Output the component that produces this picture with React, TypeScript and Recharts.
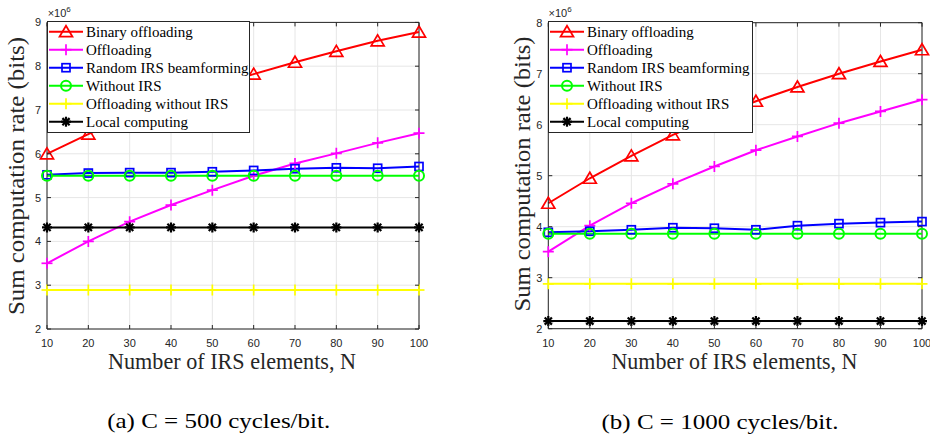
import React from 'react';
import { LineChart, Line, XAxis, YAxis, CartesianGrid, ReferenceLine, Legend } from 'recharts';

// ---------- data (values in units of 10^6 bits) ----------
const N_VALUES = [10, 20, 30, 40, 50, 60, 70, 80, 90, 100];
const X_TICKS = [10, 20, 30, 40, 50, 60, 70, 80, 90, 100];
const Y_TICKS_A = [2, 3, 4, 5, 6, 7, 8, 9];
const Y_TICKS_B = [2, 3, 4, 5, 6, 7, 8];

// (a) C = 500 cycles/bit
const BINARY_A = [6.0, 6.45, 6.85, 7.2, 7.52, 7.82, 8.09, 8.34, 8.58, 8.78];
const OFFLOAD_A = [3.5, 4.0, 4.45, 4.83, 5.17, 5.5, 5.78, 6.01, 6.25, 6.47];
const RANDOM_A = [5.52, 5.56, 5.57, 5.57, 5.59, 5.62, 5.66, 5.68, 5.67, 5.71];
const WITHOUT_A = [5.5, 5.5, 5.5, 5.5, 5.5, 5.5, 5.5, 5.5, 5.5, 5.5];
const OFF_NO_IRS_A = [2.89, 2.89, 2.89, 2.89, 2.89, 2.89, 2.89, 2.89, 2.89, 2.89];
const LOCAL_A = [4.32, 4.32, 4.32, 4.32, 4.32, 4.32, 4.32, 4.32, 4.32, 4.32];

// (b) C = 1000 cycles/bit
const BINARY_B = [4.46, 4.95, 5.39, 5.8, 6.14, 6.46, 6.74, 7.0, 7.24, 7.47];
const OFFLOAD_B = [3.51, 4.02, 4.46, 4.84, 5.18, 5.5, 5.77, 6.03, 6.26, 6.49];
const RANDOM_B = [3.89, 3.91, 3.94, 3.98, 3.97, 3.94, 4.02, 4.06, 4.08, 4.1];
const WITHOUT_B = [3.86, 3.86, 3.86, 3.86, 3.86, 3.86, 3.86, 3.86, 3.86, 3.86];
const OFF_NO_IRS_B = [2.88, 2.88, 2.88, 2.88, 2.88, 2.88, 2.88, 2.88, 2.88, 2.88];
const LOCAL_B = [2.15, 2.15, 2.15, 2.15, 2.15, 2.15, 2.15, 2.15, 2.15, 2.15];

const SERIES = [
  { key: 'binary', name: 'Binary offloading', color: '#FF0000', marker: 'triangle' },
  { key: 'offloading', name: 'Offloading', color: '#FF00FF', marker: 'plus' },
  { key: 'random', name: 'Random IRS beamforming', color: '#0000FF', marker: 'square' },
  { key: 'withoutIrs', name: 'Without IRS', color: '#00FF00', marker: 'circle' },
  { key: 'offNoIrs', name: 'Offloading without IRS', color: '#FFFF00', marker: 'plus' },
  { key: 'local', name: 'Local computing', color: '#000000', marker: 'asterisk' },
];

function buildRows(cols: Record<string, number[]>) {
  return N_VALUES.map((n, i) => {
    const r: any = { n };
    Object.keys(cols).forEach((k) => {
      r[k] = cols[k][i];
    });
    return r;
  });
}

const ROWS_A = buildRows({
  binary: BINARY_A,
  offloading: OFFLOAD_A,
  random: RANDOM_A,
  withoutIrs: WITHOUT_A,
  offNoIrs: OFF_NO_IRS_A,
  local: LOCAL_A,
});
const ROWS_B = buildRows({
  binary: BINARY_B,
  offloading: OFFLOAD_B,
  random: RANDOM_B,
  withoutIrs: WITHOUT_B,
  offNoIrs: OFF_NO_IRS_B,
  local: LOCAL_B,
});

const AXIS = '#262626';
const SERIF = 'Liberation Serif';
const SANS = 'Liberation Sans';

function Marker({ type, cx, cy, color }: any) {
  if (cx == null || cy == null || isNaN(cx) || isNaN(cy)) return null;
  switch (type) {
    case 'triangle':
      return (
        <polygon
          points={`${cx},${cy - 6} ${cx - 6.5},${cy + 5} ${cx + 6.5},${cy + 5}`}
          fill="none"
          stroke={color}
          strokeWidth={1.7}
        />
      );
    case 'plus':
      return (
        <g stroke={color} strokeWidth={1.7}>
          <line x1={cx - 5.5} x2={cx + 5.5} y1={cy} y2={cy} />
          <line x1={cx} x2={cx} y1={cy - 5.5} y2={cy + 5.5} />
        </g>
      );
    case 'square':
      return <rect x={cx - 4} y={cy - 4} width={8} height={8} fill="none" stroke={color} strokeWidth={1.7} />;
    case 'circle':
      return <circle cx={cx} cy={cy} r={5} fill="none" stroke={color} strokeWidth={2} />;
    case 'asterisk':
      return (
        <g stroke={color} strokeWidth={2.2}>
          <line x1={cx - 5} x2={cx + 5} y1={cy} y2={cy} />
          <line x1={cx} x2={cx} y1={cy - 5} y2={cy + 5} />
          <line x1={cx - 3.6} x2={cx + 3.6} y1={cy - 3.6} y2={cy + 3.6} />
          <line x1={cx - 3.6} x2={cx + 3.6} y1={cy + 3.6} y2={cy - 3.6} />
          <circle cx={cx} cy={cy} r={2} fill={color} stroke="none" />
        </g>
      );
    default:
      return null;
  }
}

function LegendBox({ width, height }: { width: number; height: number }) {
  return (
    <svg width={width} height={height} style={{ display: 'block' }}>
      <rect x={0.5} y={0.5} width={width - 1} height={height - 1} fill="#ffffff" stroke={AXIS} strokeWidth={1} />
      {SERIES.map((s, i) => {
        const cy = 10.7 + i * 18;
        return (
          <g key={s.key}>
            <line x1={2} x2={36} y1={cy} y2={cy} stroke={s.color} strokeWidth={2} />
            <Marker type={s.marker} cx={19} cy={cy} color={s.color} />
            <text x={39} y={cy + 4.8} fontFamily={SERIF} fontSize={15} fill="#000000">
              {s.name}
            </text>
          </g>
        );
      })}
    </svg>
  );
}

type PanelProps = {
  rows: any[];
  width: number;
  yMax: number;
  yTicks: number[];
  top: number;
  plotLeft: number;
  plotRight: number;
  plotBottom: number;
  legendWidth: number;
};

const PANEL_H = 360;

function Panel({ rows, width, yMax, yTicks, top, plotLeft, plotRight, plotBottom, legendWidth }: PanelProps) {
  const XTick = (props: any) => {
    const { x, y, payload } = props;
    return (
      <g>
        <line x1={x} x2={x} y1={y} y2={y - 4} stroke={AXIS} strokeWidth={1} />
        <line x1={x} x2={x} y1={top} y2={top + 4} stroke={AXIS} strokeWidth={1} />
        <text x={x} y={y + 18} textAnchor="middle" fontFamily={SANS} fontSize={11} fill={AXIS}>
          {payload.value}
        </text>
      </g>
    );
  };
  const YTick = (props: any) => {
    const { y, payload } = props;
    return (
      <g>
        <line x1={plotLeft} x2={plotLeft + 4} y1={y} y2={y} stroke={AXIS} strokeWidth={1} />
        <line x1={plotRight - 4} x2={plotRight} y1={y} y2={y} stroke={AXIS} strokeWidth={1} />
        <text x={plotLeft - 6} y={y + 4} textAnchor="end" fontFamily={SANS} fontSize={11} fill={AXIS}>
          {payload.value}
        </text>
      </g>
    );
  };

  return (
    <LineChart
      width={width}
      height={PANEL_H}
      data={rows}
      margin={{ top, right: width - plotRight, left: 0, bottom: 0 }}
    >
      <CartesianGrid stroke="#e6e6e6" strokeWidth={1} />
      <XAxis
        dataKey="n"
        type="number"
        domain={[10, 100]}
        ticks={X_TICKS}
        interval={0}
        height={PANEL_H - plotBottom}
        tickSize={0}
        tickMargin={0}
        tickLine={false}
        axisLine={{ stroke: AXIS, strokeWidth: 1 }}
        tick={XTick}
      />
      <YAxis
        type="number"
        domain={[2, yMax]}
        ticks={yTicks}
        interval={0}
        width={plotLeft}
        tickSize={0}
        tickMargin={0}
        tickLine={false}
        allowDataOverflow
        axisLine={{ stroke: AXIS, strokeWidth: 1 }}
        tick={YTick}
      />
      <ReferenceLine y={yMax} stroke={AXIS} strokeWidth={1} />
      <ReferenceLine x={100} stroke={AXIS} strokeWidth={1} />
      {SERIES.map((s) => (
        <Line
          key={s.key}
          dataKey={s.key}
          name={s.name}
          type="linear"
          stroke={s.color}
          strokeWidth={2}
          isAnimationActive={false}
          dot={(p: any) => <Marker key={`${s.key}-${p.index}`} type={s.marker} cx={p.cx} cy={p.cy} color={s.color} />}
          activeDot={false}
        />
      ))}
      <Legend
        layout="vertical"
        align="center"
        verticalAlign="middle"
        content={() => <LegendBox width={legendWidth} height={112} />}
        wrapperStyle={{ left: plotLeft - 0.5, top: top - 1.5, width: legendWidth, height: 112 }}
      />
    </LineChart>
  );
}

export default function App() {
  return (
    <div
      style={{
        position: 'absolute',
        left: 0,
        top: 0,
        width: 930,
        height: 435,
        background: '#ffffff',
        overflow: 'hidden',
      }}
    >
      <div style={{ position: 'absolute', left: 0, top: 0 }}>
        <Panel
          rows={ROWS_A}
          width={465}
          yMax={9}
          yTicks={Y_TICKS_A}
          top={22.4}
          plotLeft={47}
          plotRight={419}
          plotBottom={329}
          legendWidth={203}
        />
      </div>
      <div style={{ position: 'absolute', left: 465, top: 0 }}>
        <Panel
          rows={ROWS_B}
          width={475}
          yMax={8}
          yTicks={Y_TICKS_B}
          top={22.7}
          plotLeft={83.3}
          plotRight={457}
          plotBottom={328.7}
          legendWidth={205}
        />
      </div>
      <svg
        width={930}
        height={435}
        style={{ position: 'absolute', left: 0, top: 0, pointerEvents: 'none' }}
      >
        {/* exponent labels */}
        <text x={47.7} y={17.3} fontFamily={SANS} fontSize={11} fill={AXIS}>
          ×10<tspan fontSize={8} dy={-5.5}>6</tspan>
        </text>
        <text x={548.5} y={17.3} fontFamily={SANS} fontSize={11} fill={AXIS}>
          ×10<tspan fontSize={8} dy={-5.5}>6</tspan>
        </text>
        {/* y-axis titles */}
        <text
          x={24}
          y={176}
          transform="rotate(-90 24 176)"
          textAnchor="middle"
          fontFamily={SERIF}
          fontSize={23}
          fill={AXIS}
          textLength={278}
          lengthAdjust="spacingAndGlyphs"
        >
          Sum computation rate (bits)
        </text>
        <text
          x={530}
          y={174}
          transform="rotate(-90 530 174)"
          textAnchor="middle"
          fontFamily={SERIF}
          fontSize={23}
          fill={AXIS}
          textLength={275}
          lengthAdjust="spacingAndGlyphs"
        >
          Sum computation rate (bits)
        </text>
        {/* x-axis titles */}
        <text
          x={232}
          y={369}
          textAnchor="middle"
          fontFamily={SERIF}
          fontSize={22.5}
          fill={AXIS}
          textLength={248}
          lengthAdjust="spacingAndGlyphs"
        >
          Number of IRS elements, N
        </text>
        <text
          x={734.5}
          y={369}
          textAnchor="middle"
          fontFamily={SERIF}
          fontSize={22.5}
          fill={AXIS}
          textLength={246}
          lengthAdjust="spacingAndGlyphs"
        >
          Number of IRS elements, N
        </text>
        {/* sub-captions */}
        <text
          x={218.7}
          y={428.3}
          textAnchor="middle"
          fontFamily={SERIF}
          fontSize={22}
          fill="#000000"
          textLength={223}
          lengthAdjust="spacingAndGlyphs"
        >
          (a)  C = 500 cycles/bit.
        </text>
        <text
          x={720}
          y={429}
          textAnchor="middle"
          fontFamily={SERIF}
          fontSize={22}
          fill="#000000"
          textLength={237}
          lengthAdjust="spacingAndGlyphs"
        >
          (b)  C = 1000 cycles/bit.
        </text>
      </svg>
    </div>
  );
}
